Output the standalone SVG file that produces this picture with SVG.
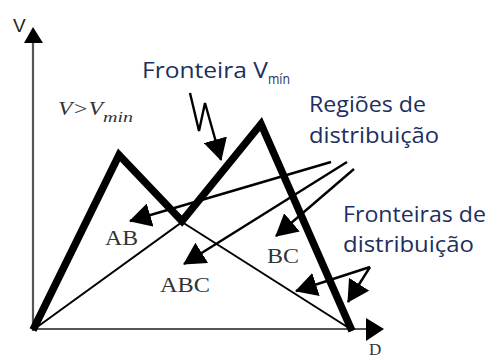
<svg xmlns="http://www.w3.org/2000/svg" width="488" height="360" viewBox="0 0 488 360">
<defs>
<style>
.thick{fill:none;stroke:#000;stroke-width:7.5;stroke-linejoin:miter;stroke-miterlimit:10}
.thin{fill:none;stroke:#000;stroke-width:2}
.arr{fill:none;stroke:#000;stroke-width:2.4;marker-end:url(#head)}
.axis{fill:none;stroke:#555;stroke-width:2.2}
.pt{font-family:"Open Sans","Noto Sans","Liberation Sans",sans-serif;fill:#1c2f5e}
.sf{font-family:"Liberation Serif","Times New Roman",serif;fill:#333}
</style>
<marker id="head" markerUnits="userSpaceOnUse" markerWidth="22" markerHeight="24" refX="21" refY="12" orient="auto" viewBox="0 0 22 24">
<path d="M0,0 L22,12 L0,24 z" fill="#000"/>
</marker>
</defs>
<rect width="488" height="360" fill="#fff"/>

<g id="axes">
<line class="axis" x1="33" y1="331" x2="33" y2="40" stroke="#777"/>
<polygon points="33,27 24,43 43,43" fill="#000"/>
<line class="axis" x1="33" y1="329" x2="370" y2="329"/>
<polygon points="384,329 366,318 366,341" fill="#000"/>
</g>

<g id="curves">
<polyline class="thick" points="33,330 119,155 182,221 261,124 352,331"/>
<polyline class="thin" points="33,330 182,222 193,203"/>
<line class="thin" x1="182" y1="222" x2="352" y2="330"/>
</g>

<g id="connectors">
<line class="arr" x1="331" y1="162" x2="130" y2="221"/>
<line class="arr" x1="347" y1="162" x2="184" y2="264"/>
<line class="arr" x1="354" y1="169" x2="276" y2="236"/>
<polyline class="arr" points="190,93 199,131 205,103 221,160"/>
<line class="arr" x1="370" y1="267" x2="296" y2="291"/>
<line class="arr" x1="370" y1="267" x2="348" y2="302"/>
</g>

<g id="label-V">
<text x="13" y="32" font-family="Liberation Sans, sans-serif" font-size="19" fill="#222">V</text>
</g>
<g id="label-D">
<text class="sf" x="369" y="355" font-size="17" fill="#222">D</text>
</g>
<g id="label-vmin">
<text class="sf" x="58" y="115" font-size="18" font-style="italic" textLength="45" lengthAdjust="spacingAndGlyphs">V&gt;V</text>
<text class="sf" x="103" y="122" font-size="14" font-style="italic" textLength="30" lengthAdjust="spacingAndGlyphs">min</text>
</g>
<g id="label-fronteira">
<text class="pt" x="142" y="78" font-size="22" textLength="126" lengthAdjust="spacingAndGlyphs">Fronteira V</text>
<text class="pt" x="268" y="84" font-size="14" textLength="22" lengthAdjust="spacingAndGlyphs">mín</text>
</g>
<g id="label-regioes">
<text class="pt" x="309" y="112" font-size="22" textLength="117" lengthAdjust="spacingAndGlyphs">Regiões de</text>
<text class="pt" x="309" y="143" font-size="22" textLength="130" lengthAdjust="spacingAndGlyphs">distribuição</text>
</g>
<g id="label-fronteiras">
<text class="pt" x="343" y="222" font-size="22" textLength="143" lengthAdjust="spacingAndGlyphs">Fronteiras de</text>
<text class="pt" x="343" y="252" font-size="22" textLength="131" lengthAdjust="spacingAndGlyphs">distribuição</text>
</g>
<g id="region-AB">
<text class="sf" x="105" y="245" font-size="21" textLength="33" lengthAdjust="spacingAndGlyphs">AB</text>
</g>
<g id="region-ABC">
<text class="sf" x="160" y="292" font-size="21" textLength="50" lengthAdjust="spacingAndGlyphs">ABC</text>
</g>
<g id="region-BC">
<text class="sf" x="267" y="263" font-size="22" textLength="32" lengthAdjust="spacingAndGlyphs">BC</text>
</g>
</svg>
